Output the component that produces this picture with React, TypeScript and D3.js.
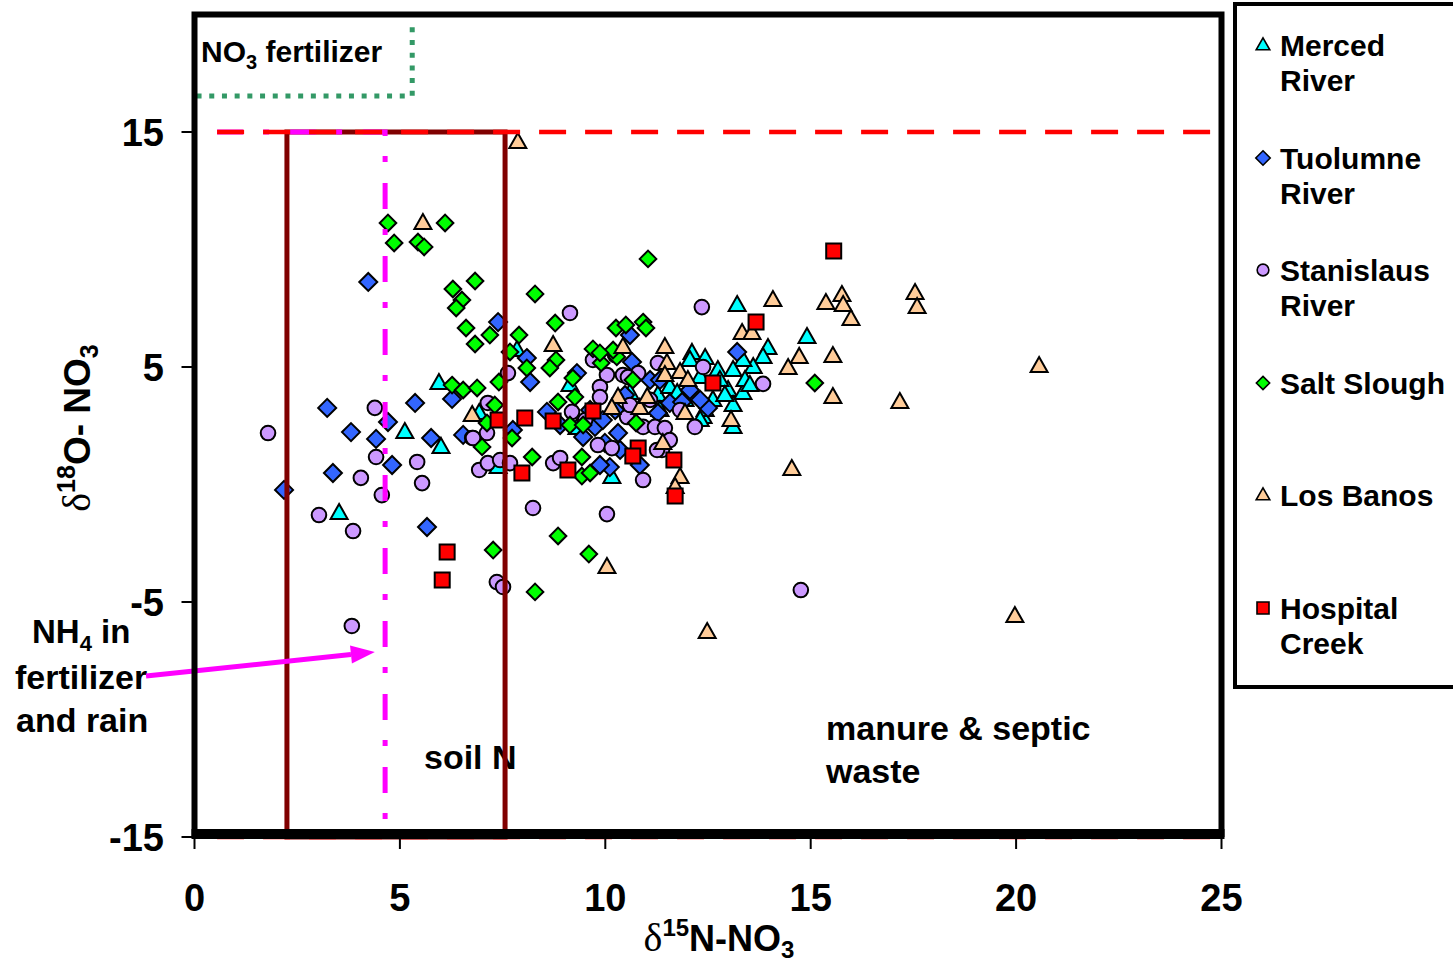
import React from "react";
import * as d3 from "d3";

type Pt = [number, number];

const xTickValues = [0, 5, 10, 15, 20, 25];
const yTickValues = [-15, -5, 5, 15];

const seriesNames = ["Merced River", "Tuolumne River", "Stanislaus River", "Salt Slough", "Los Banos", "Hospital Creek"];

const mercedRiver: Pt[] = [
  [5.95, 4.32], [5.12, 2.23], [6.0, 1.6], [3.52, -1.21], [7.85, 5.72], [6.93, 3.04], [7.39, 0.74],
  [10.16, 0.32], [9.31, 2.4], [9.14, 4.23], [10.6, 3.89], [11.28, 3.81], [11.57, 4.15], [11.75, 3.89],
  [12.11, 5.6], [12.43, 5.38], [12.74, 4.87], [12.31, 4.57], [12.62, 3.6], [12.38, 2.87], [12.99, 4.02],
  [13.11, 3.38], [13.11, 2.45], [13.35, 3.89], [13.21, 7.64], [14.91, 6.28], [13.96, 5.81], [13.84, 5.43],
  [13.6, 5.0], [13.35, 5.3], [13.11, 4.87], [12.43, 3.17], [12.31, 2.74], [12.06, 5.3], [12.79, 4.45],
  [13.4, 4.45], [11.94, 3.6], [11.33, 3.17], [12.91, 3.81], [13.52, 4.23],
];

const tuolumneRiver: Pt[] = [
  [4.23, 8.62], [3.23, 3.26], [3.81, 2.23], [4.42, 1.94], [4.71, 2.66], [4.81, 0.83], [3.37, 0.49],
  [2.18, -0.23], [5.66, -1.81], [5.37, 3.47], [5.76, 1.98], [6.54, 2.11], [6.27, 3.64], [7.39, 6.91],
  [8.09, 5.38], [8.17, 4.36], [8.58, 3.09], [7.75, 2.32], [9.31, 4.74], [9.75, 2.45], [9.94, 2.74],
  [9.46, 2.02], [10.31, 2.19], [10.11, 0.74], [10.6, 6.36], [10.65, 5.21], [10.84, 0.83], [11.28, 3.04],
  [11.57, 3.47], [13.21, 5.64], [12.5, 3.26], [11.87, 3.51], [9.99, 1.77], [10.36, 1.47], [11.09, 4.45],
  [12.06, 4.02], [12.31, 3.6], [9.87, 0.83], [9.63, 3.17], [8.9, 2.53], [10.48, 3.81], [11.33, 4.45],
  [10.24, 3.17],
];

const stanislausRiver: Pt[] = [
  [1.79, 2.19], [3.03, -1.3], [3.86, -1.98], [4.05, 0.28], [4.39, 3.26], [4.42, 1.17], [4.56, -0.45],
  [5.42, 0.96], [5.54, 0.06], [3.83, -6.02], [6.76, 1.98], [6.93, 0.62], [9.14, 7.3], [9.7, 5.3],
  [10.04, 4.66], [9.87, 4.15], [10.43, 4.66], [10.8, 4.74], [11.28, 5.17], [7.63, 4.74], [7.14, 3.47],
  [6.78, 1.98], [7.14, 0.91], [7.44, 1.04], [7.68, 0.91], [8.24, -1.0], [10.04, -1.26], [7.36, -4.15],
  [7.51, -4.36], [8.73, 0.91], [8.9, 1.13], [9.19, 3.09], [9.82, 1.68], [10.16, 1.55], [10.53, 2.87],
  [10.92, 2.45], [11.21, 2.45], [10.92, 0.19], [11.38, 1.47], [9.87, 3.72], [12.35, 7.55], [10.55, 4.57],
  [12.38, 5.0], [13.84, 4.28], [12.18, 2.45], [11.45, 2.4], [11.26, 1.47], [11.57, 1.89], [14.76, -4.49],
  [7.12, 2.19], [10.24, 5.51], [10.6, 3.38], [9.51, 2.74], [11.09, 3.6], [11.82, 3.17],
];

const saltSlough: Pt[] = [
  [4.71, 11.13], [6.1, 11.13], [4.86, 10.28], [5.44, 10.32], [5.59, 10.11], [6.29, 8.32], [6.83, 8.66],
  [6.51, 7.85], [6.37, 7.51], [6.61, 6.66], [6.83, 5.98], [6.27, 4.23], [6.54, 4.02], [6.88, 4.11],
  [8.29, 8.11], [11.04, 9.6], [7.19, 6.36], [7.9, 6.36], [7.68, 5.64], [8.78, 6.87], [8.8, 5.3],
  [8.65, 4.96], [7.41, 4.36], [8.09, 4.96], [9.7, 5.77], [9.21, 4.53], [9.9, 5.17], [10.26, 6.66],
  [10.5, 6.79], [10.92, 6.91], [10.99, 6.66], [10.28, 5.43], [10.67, 4.45], [7.31, 3.38], [7.12, 2.62],
  [7.73, 1.98], [7.0, 1.6], [8.22, 1.17], [8.85, 3.51], [9.26, 3.72], [9.14, 2.53], [9.46, 2.53],
  [9.43, 1.17], [9.43, 0.36], [9.63, 0.49], [10.75, 2.62], [7.27, -2.79], [8.85, -2.19], [9.6, -2.96],
  [8.29, -4.57], [15.1, 4.32], [10.19, 5.72], [9.87, 5.6],
];

const losBanos: Pt[] = [
  [5.56, 11.13], [7.87, 14.57], [6.76, 2.96], [8.73, 5.94], [10.43, 5.85], [11.45, 5.85], [11.5, 5.17],
  [11.45, 4.66], [11.82, 4.79], [12.01, 4.45], [10.31, 3.72], [10.16, 3.26], [10.84, 3.26], [11.02, 3.72],
  [11.94, 3.04], [11.4, 1.77], [11.82, 0.32], [11.7, -0.11], [10.04, -3.51], [14.08, 7.85], [13.33, 6.45],
  [13.57, 6.45], [15.37, 7.72], [15.76, 8.06], [15.79, 7.64], [15.98, 7.04], [14.72, 5.43], [15.54, 5.47],
  [14.45, 4.96], [15.54, 3.72], [13.06, 2.74], [14.54, 0.66], [17.17, 3.51], [17.54, 8.15], [17.59, 7.55],
  [20.56, 5.04], [12.48, -6.28], [19.97, -5.6],
];

const hospitalCreek: Pt[] = [
  [15.56, 9.94], [13.67, 6.91], [12.62, 4.32], [10.8, 1.55], [10.67, 1.21], [11.67, 1.04], [11.7, -0.49],
  [9.7, 3.13], [9.09, 0.62], [8.73, 2.7], [8.04, 2.83], [7.39, 2.74], [7.97, 0.49], [6.15, -2.87],
  [6.03, -4.06],
];

const seriesData = [mercedRiver, tuolumneRiver, stanislausRiver, saltSlough, losBanos, hospitalCreek];
const seriesShapes = ["triangle", "diamond", "circle", "diamondSmall", "triangle", "square"];
const seriesFills = ["#00FFFF", "#3366FF", "#CC99FF", "#00FF00", "#FFCC99", "#FF0000"];
const legendLines = [["Merced", "River"], ["Tuolumne", "River"], ["Stanislaus", "River"], ["Salt Slough"], ["Los Banos"], ["Hospital", "Creek"]];
const legendY = [45, 158, 270, 383, 495, 608];

const FONT = "'Liberation Sans', Arial, Helvetica, sans-serif";
const SERIF = "'Liberation Serif', 'DejaVu Serif', serif";

function markerPath(shape: string, s: number): string {
  switch (shape) {
    case "triangle":
      return `M0,${-9 * s}L${8.5 * s},${6 * s}L${-8.5 * s},${6 * s}Z`;
    case "diamond":
      return `M0,${-9 * s}L${9 * s},0L0,${9 * s}L${-9 * s},0Z`;
    case "diamondSmall":
      return `M0,${-8.3 * s}L${8.3 * s},0L0,${8.3 * s}L${-8.3 * s},0Z`;
    case "square":
      return `M${-7.5 * s},${-7.5 * s}H${7.5 * s}V${7.5 * s}H${-7.5 * s}Z`;
    default: {
      const r = 7.3 * s;
      return `M${r},0A${r},${r} 0 1,1 ${-r},0A${r},${r} 0 1,1 ${r},0Z`;
    }
  }
}

export default function App() {
  const W = 1453, H = 965;
  const x = d3.scaleLinear().domain([0, 25]).range([194.5, 1221.5]);
  const y = d3.scaleLinear().domain([-15, 20]).range([837, 14.5]);

  const redDashed = `M${x(0.55)},${y(15)}H${x(25)}M${x(0.55)},${y(-15)}H${x(25)}`;
  const maroonBox = `M${x(2.25)},${y(-15)}V${y(15)}H${x(7.56)}V${y(-15)}Z`;
  const magentaBox = `M${x(0.55)},${y(15)}H${x(4.64)}V${y(-15)}`;
  const greenBox = `M${x(0.05)},${y(16.53)}H${x(5.3)}V${y(19.55)}`;

  // arrow from NH4 label to magenta line
  const ax0 = x(-1.18), ay0 = y(-8.15), ax1 = x(4.39), ay1 = y(-7.13);
  const ang = Math.atan2(ay1 - ay0, ax1 - ax0);
  const hl = 24, hw = 9;
  const bx = ax1 - hl * Math.cos(ang), by = ay1 - hl * Math.sin(ang);
  const head = `M${ax1},${ay1}L${bx - hw * Math.sin(ang)},${by + hw * Math.cos(ang)}L${bx + hw * Math.sin(ang)},${by - hw * Math.cos(ang)}Z`;

  return (
    <svg width={W} height={H} style={{ position: "absolute", left: 0, top: 0, background: "#fff" }} fontFamily={FONT}>
      <rect x={0} y={0} width={W} height={H} fill="#fff" />

      {/* markers */}
      {seriesData.map((data, si) => (
        <g key={si}>
          {data.map((d, i) => (
            <path key={i} d={markerPath(seriesShapes[si], 1)} transform={`translate(${x(d[0])},${y(d[1])})`}
              fill={seriesFills[si]} stroke="#000" strokeWidth={2} strokeLinejoin="miter" />
          ))}
        </g>
      ))}

      {/* annotation text */}
      <text x={201} y={62} fontSize={30} fontWeight="bold">NO<tspan fontSize={20} dy={7}>3</tspan><tspan dy={-7}> fertilizer</tspan></text>
      <text x={424} y={769} fontSize={34} fontWeight="bold">soil N</text>
      <text x={826} y={740} fontSize={34} fontWeight="bold">manure &amp; septic</text>
      <text x={826} y={783} fontSize={34} fontWeight="bold">waste</text>
      <text x={32} y={643} fontSize={33} fontWeight="bold">NH<tspan fontSize={22} dy={8}>4</tspan><tspan dy={-8}> in</tspan></text>
      <text x={15} y={689} fontSize={34} fontWeight="bold">fertilizer</text>
      <text x={16} y={732} fontSize={34} fontWeight="bold">and rain</text>

      {/* reference lines */}
      <path d={maroonBox} fill="none" stroke="#800000" strokeWidth={5} />
      <path d={magentaBox} fill="none" stroke="#FF00FF" strokeWidth={5} strokeDasharray="26 20 6 21" />
      <path d={redDashed} fill="none" stroke="#FF0000" strokeWidth={4.5} strokeDasharray="27 19" />
      <path d={greenBox} fill="none" stroke="#339966" strokeWidth={5} strokeDasharray="5 7.7" />

      {/* arrow */}
      <line x1={ax0} y1={ay0} x2={bx} y2={by} stroke="#FF00FF" strokeWidth={5} />
      <path d={head} fill="#FF00FF" />

      {/* frame */}
      <rect x={x(0)} y={y(20)} width={x(25) - x(0)} height={y(-15) - y(20) - 3} fill="none" stroke="#000" strokeWidth={6} />
      <line x1={x(0) - 3} x2={x(25) + 3} y1={y(-15) - 3} y2={y(-15) - 3} stroke="#000" strokeWidth={10} />

      {/* y ticks */}
      {yTickValues.map((v) => (
        <g key={v}>
          <line x1={x(0) - 13} x2={x(0)} y1={y(v)} y2={y(v)} stroke="#000" strokeWidth={2} />
          <text x={164} y={y(v) + 14} textAnchor="end" fontSize={38} fontWeight="bold">{v}</text>
        </g>
      ))}
      {/* x ticks */}
      {xTickValues.map((v) => (
        <g key={v}>
          <line x1={x(v)} x2={x(v)} y1={y(-15)} y2={y(-15) + 12} stroke="#000" strokeWidth={2} />
          <text x={x(v)} y={911} textAnchor="middle" fontSize={38} fontWeight="bold">{v}</text>
        </g>
      ))}

      {/* axis titles */}
      <text x={719} y={951} textAnchor="middle" fontSize={36} fontWeight="bold">
        <tspan fontFamily={SERIF} fontWeight="normal" fontSize={40}>δ</tspan>
        <tspan fontSize={24} dy={-15}>15</tspan>
        <tspan dy={15}>N-NO</tspan>
        <tspan fontSize={24} dy={7}>3</tspan>
      </text>
      <text transform="translate(90,428) rotate(-90)" textAnchor="middle" fontSize={37} fontWeight="bold">
        <tspan fontFamily={SERIF} fontWeight="normal" fontSize={40}>δ</tspan>
        <tspan fontSize={25} dy={-15}>18</tspan>
        <tspan dy={15}>O- NO</tspan>
        <tspan fontSize={25} dy={8}>3</tspan>
      </text>

      {/* legend */}
      <rect x={1235} y={4} width={240} height={683} fill="#fff" stroke="#000" strokeWidth={4} />
      {seriesNames.map((name, i) => (
        <g key={name}>
          <path d={markerPath(seriesShapes[i], 0.8)} transform={`translate(1263,${legendY[i]})`}
            fill={seriesFills[i]} stroke="#000" strokeWidth={1.6} />
          {legendLines[i].map((ln, j) => (
            <text key={j} x={1280} y={legendY[i] + 11 + j * 35} fontSize={30} fontWeight="bold">{ln}</text>
          ))}
        </g>
      ))}
    </svg>
  );
}
